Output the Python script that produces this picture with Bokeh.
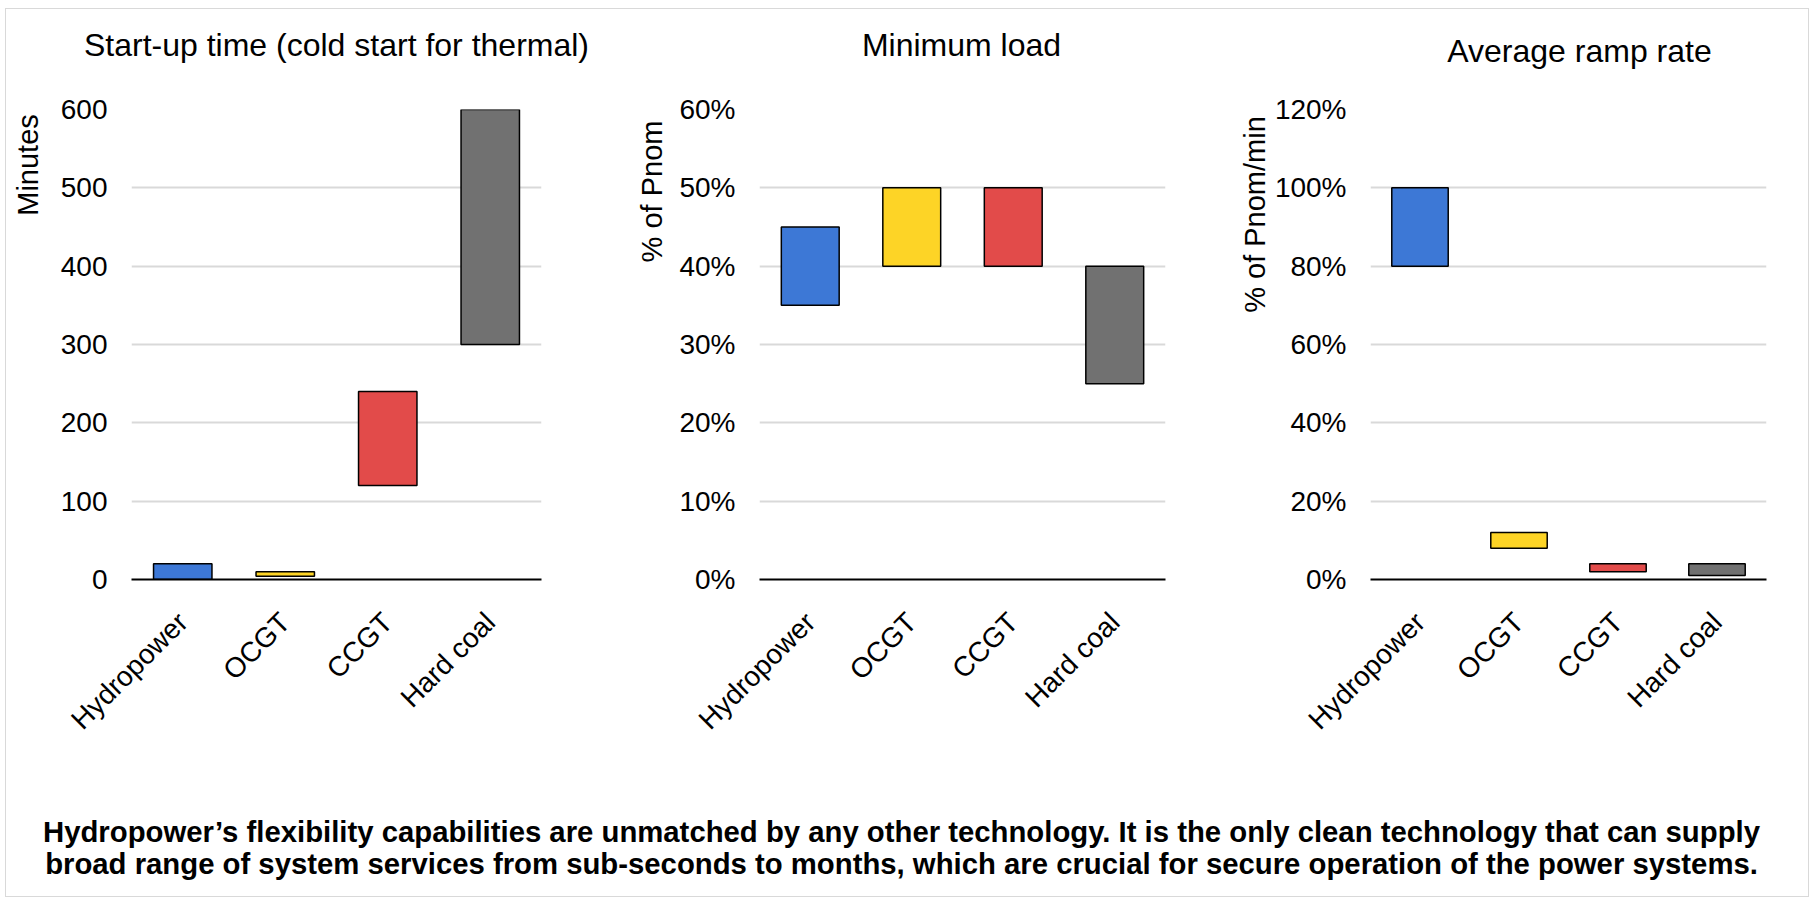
import math
from bokeh.plotting import figure
from bokeh.layouts import row, column
from bokeh.models import Range1d, FactorRange, NumeralTickFormatter, FixedTicker
from bokeh.core.properties import value
from bokeh.embed import file_html
from bokeh.resources import INLINE

# ---------------- data ----------------
categories = ["Hydropower", "OCGT", "CCGT", "Hard coal"]
colors = ["#3D78D6", "#FDD426", "#E24B4A", "#717171"]

startup_low = [0, 4, 120, 300]
startup_high = [20, 10, 240, 600]
startup_ticks = [0, 100, 200, 300, 400, 500, 600]

minload_low = [0.35, 0.40, 0.40, 0.25]
minload_high = [0.45, 0.50, 0.50, 0.40]
minload_ticks = [0, 0.1, 0.2, 0.3, 0.4, 0.5, 0.6]

ramp_low = [0.80, 0.08, 0.02, 0.01]
ramp_high = [1.00, 0.12, 0.04, 0.04]
ramp_ticks = [0, 0.2, 0.4, 0.6, 0.8, 1.0, 1.2]

titles = ["Start-up time (cold start for thermal)", "Minimum load", "Average ramp rate"]
ylabels = ["Minutes", "% of Pnom", "% of Pnom/min"]
footnote = [
    "Hydropower\u2019s flexibility capabilities are unmatched by any other technology. It is the only clean technology that can supply",
    "broad range of system services from sub-seconds to months, which are crucial for secure operation of the power systems.",
]

FONT = "Liberation Sans"
TOTAL_W = 1802
TITLE_H = 82
CHART_H = 677
FOOT_H = 128
BT = 18          # border above plot frames
FH = 470         # frame height
BB = CHART_H - BT - FH


def blank(width, height, bt=0, bb=0, yr=None):
    f = figure(width=width, height=height, x_range=Range1d(0, width),
               y_range=Range1d(0, yr if yr is not None else height),
               output_backend="svg", toolbar_location=None, title=None,
               min_border=0, min_border_left=0, min_border_right=0,
               min_border_top=bt, min_border_bottom=bb)
    f.axis.visible = False
    f.grid.visible = False
    f.outline_line_color = None
    return f


def make_panel(low, high, ticks, ymax, pct, width, bl, br):
    p = figure(width=width, height=CHART_H, x_range=FactorRange(*categories),
               y_range=Range1d(0, ymax), output_backend="svg", toolbar_location=None,
               title=None, min_border_left=bl, min_border_right=br, min_border_top=BT,
               min_border_bottom=BB)
    p.vbar(x=categories, bottom=low, top=high, width=0.57, fill_color=colors,
           line_color="black", line_width=1.5)
    p.outline_line_color = None
    p.xgrid.visible = False
    p.ygrid.grid_line_color = "#d9d9d9"
    p.ygrid.grid_line_width = 2
    p.yaxis.ticker = FixedTicker(ticks=ticks)
    if pct:
        p.yaxis.formatter = NumeralTickFormatter(format="0%")
    p.yaxis.axis_line_color = None
    p.yaxis.major_tick_line_color = None
    p.yaxis.minor_tick_line_color = None
    p.yaxis.major_tick_out = 0
    p.yaxis.major_label_standoff = 24
    p.yaxis.major_label_text_font = FONT
    p.yaxis.major_label_text_font_size = "28px"
    p.yaxis.major_label_text_color = "black"
    p.xaxis.axis_line_color = "black"
    p.xaxis.axis_line_width = 2
    p.xaxis.major_tick_line_color = None
    p.xaxis.major_tick_out = 0
    p.xaxis.major_label_standoff = 38
    p.xaxis.major_label_orientation = math.pi / 4
    p.xaxis.major_label_text_font = FONT
    p.xaxis.major_label_text_font_size = "28px"
    p.xaxis.major_label_text_color = "black"
    return p


def ylabel_fig(width, text, x, y):
    f = blank(width, CHART_H, bt=BT, bb=BB, yr=FH)
    f.text(x=[x], y=[y], text=[text], angle=math.pi / 2, text_align="center",
           text_baseline="middle", text_font=value(FONT), text_font_size="29px",
           text_color="black")
    return f


# titles row
pt = blank(TOTAL_W, TITLE_H)
pt.text(x=[330, 955, 1573], y=[47, 46.5, 40.5], text=titles, text_align="center",
        text_baseline="middle", text_font=value(FONT), text_font_size="32px",
        text_color="black")

y1 = ylabel_fig(44, ylabels[0], 21.7, 414.5)
p1 = make_panel(startup_low, startup_high, startup_ticks, 600, False, 570, 81, 79)
y2 = ylabel_fig(50, ylabels[1], 31.7, 388)
p2 = make_panel(minload_low, minload_high, minload_ticks, 0.6, True, 555, 89, 60)
y3 = ylabel_fig(46, ylabels[2], 29, 365)
p3 = make_panel(ramp_low, ramp_high, ramp_ticks, 1.2, True, 537, 98, 42)

pf = blank(TOTAL_W, FOOT_H)
pf.text(x=[895, 895], y=[65, 33], text=footnote, text_align="center",
        text_baseline="middle", text_font=value(FONT), text_font_size="29.3px",
        text_font_style="bold", text_color="black")

layout = column(pt, row(y1, p1, y2, p2, y3, p3), pf,
                styles={"border": "1px solid #d9d9d9", "margin-left": "5px",
                        "margin-top": "8px"})

open("out.html", "w").write(file_html(layout, INLINE))
